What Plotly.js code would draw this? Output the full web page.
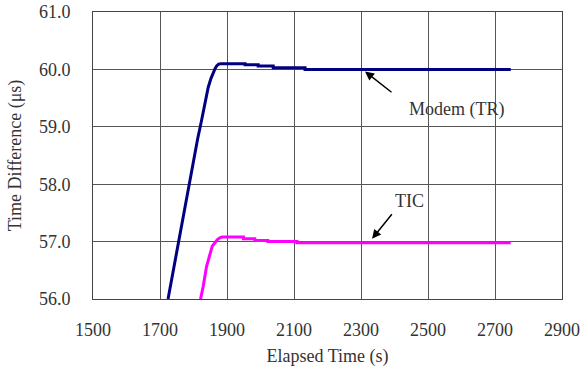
<!DOCTYPE html>
<html>
<head>
<meta charset="utf-8">
<script src="https://cdn.plot.ly/plotly-3.0.1.min.js"></script>
<style>
  html, body { margin: 0; padding: 0; background: #fff; }
  #chart { width: 582px; height: 368px; }
</style>
</head>
<body>
<div id="chart"></div>
<script>
// Elapsed time (s) and measured time difference (µs) for the two sources
const modemTime  = [1724, 1740, 1760, 1775, 1790, 1799, 1812, 1824, 1835, 1844, 1852, 1859, 1864, 1869, 1875, 1882,
                    1954, 1954, 1993, 1993, 2038, 2038, 2133, 2133, 2747];
const modemValue = [56.00, 56.50, 57.15, 57.60, 58.07, 58.41, 58.78, 59.11, 59.42, 59.69, 59.84, 59.95, 60.01, 60.06, 60.09, 60.10,
                    60.10, 60.08, 60.08, 60.06, 60.06, 60.03, 60.03, 60.00, 60.00];

const ticTime  = [1821, 1829, 1839, 1849, 1856, 1864, 1872, 1880, 1886,
                  1949, 1949, 1983, 1983, 2022, 2022, 2109, 2109, 2747];
const ticValue = [56.00, 56.22, 56.57, 56.80, 56.92, 56.98, 57.04, 57.07, 57.08,
                  57.08, 57.05, 57.05, 57.02, 57.02, 57.00, 57.00, 56.98, 56.98];

const xTicks = [1500, 1700, 1900, 2100, 2300, 2500, 2700, 2900];
const yTicks = [56, 57, 58, 59, 60, 61];

const serif = 'Liberation Serif, Times New Roman, serif';
const textFont = { family: serif, size: 18, color: '#333' };

const traces = [
  { x: modemTime, y: modemValue, type: 'scatter', mode: 'lines', name: 'Modem (TR)',
    line: { color: '#000080', width: 3 } },
  { x: ticTime, y: ticValue, type: 'scatter', mode: 'lines', name: 'TIC',
    line: { color: '#FF00FF', width: 3 } }
];

const layout = {
  width: 582, height: 368,
  margin: { l: 93, r: 20, t: 12, b: 69 },
  paper_bgcolor: '#fff', plot_bgcolor: '#fff',
  showlegend: false,
  font: textFont,
  xaxis: {
    range: [1500, 2900], tickvals: xTicks, ticktext: xTicks.map(String),
    tickfont: textFont, ticklabelstandoff: 14,
    showgrid: true, gridcolor: '#555', gridwidth: 1,
    showline: true, linecolor: '#444', linewidth: 1, mirror: true,
    ticks: '', zeroline: false, fixedrange: true,
    title: { text: 'Elapsed Time (s)', font: textFont, standoff: 10 }
  },
  yaxis: {
    range: [56, 61], tickvals: yTicks, ticktext: yTicks.map(v => v.toFixed(1)),
    tickfont: textFont, ticklabelstandoff: 18,
    showgrid: true, gridcolor: '#555', gridwidth: 1,
    showline: true, linecolor: '#444', linewidth: 1, mirror: true,
    ticks: '', zeroline: false, fixedrange: true,
    title: { text: 'Time Difference (μs)', font: textFont, standoff: 12 }
  },
  annotations: [
    { x: 2312, y: 59.965, xref: 'x', yref: 'y', ax: 28, ay: 22, text: '',
      showarrow: true, arrowhead: 2, arrowsize: 1.2, arrowwidth: 1.5, arrowcolor: '#000' },
    { x: 2584, y: 59.30, xref: 'x', yref: 'y', text: 'Modem (TR)', showarrow: false, font: textFont },
    { x: 2333, y: 57.05, xref: 'x', yref: 'y', ax: 21, ay: -26, text: '',
      showarrow: true, arrowhead: 2, arrowsize: 1.2, arrowwidth: 1.5, arrowcolor: '#000' },
    { x: 2446, y: 57.71, xref: 'x', yref: 'y', text: 'TIC', showarrow: false, font: textFont }
  ]
};

Plotly.newPlot('chart', traces, layout, { staticPlot: true, displayModeBar: false });
</script>
</body>
</html>
